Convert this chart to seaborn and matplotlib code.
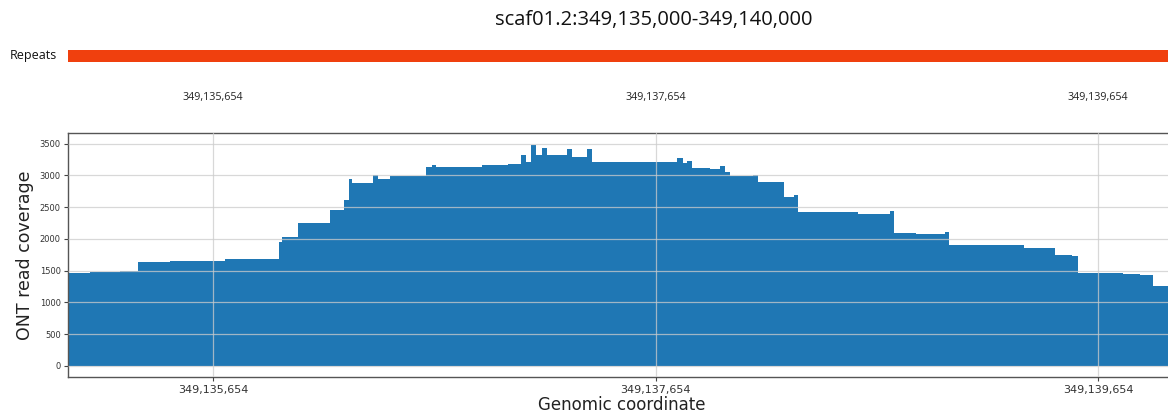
import matplotlib
matplotlib.use("Agg")
import matplotlib.pyplot as plt
import matplotlib.ticker as mticker
import seaborn as sns
import numpy as np

# ---------------- data ----------------
region_title = "scaf01.2:349,135,000-349,140,000"
region_start = 349135000
region_end = 349140000

repeat_starts = [349135000]
repeat_ends = [349140000]

top_ticks = [349135654, 349137654, 349139654]
y_ticks = [0, 500, 1000, 1500, 2000, 2500, 3000, 3500]

# coverage step function: start position of each step and its coverage
step_starts = [
    349135000, 349135098, 349135234, 349135316, 349135460, 349135708,
    349135952, 349135968, 349136036, 349136183, 349136246, 349136267,
    349136283, 349136379, 349136398, 349136454, 349136617, 349136643,
    349136662, 349136869, 349136989, 349137044, 349137069, 349137092,
    349137114, 349137143, 349137165, 349137253, 349137275, 349137346,
    349137368, 349137750, 349137777, 349137797, 349137820, 349137900,
    349137946, 349137968, 349137991, 349138096, 349138119, 349138233,
    349138282, 349138300, 349138473, 349138571, 349138714, 349138733,
    349138831, 349138962, 349138980, 349139319, 349139445, 349139459,
    349139536, 349139562, 349139768, 349139844, 349139904,
]
coverage = [
    1470, 1480, 1495, 1629, 1650, 1676,
    1955, 2030, 2245, 2460, 2620, 2945,
    2880, 3005, 2950, 2990, 3134, 3172,
    3140, 3170, 3188, 3325, 3215, 3488,
    3320, 3440, 3320, 3414, 3292, 3414,
    3213, 3277, 3200, 3235, 3119, 3103,
    3150, 3056, 2985, 3003, 2890, 2655,
    2690, 2430, 2420, 2400, 2438, 2095,
    2080, 2105, 1898, 1850, 1860, 1745,
    1735, 1461, 1440, 1428, 1260,
]

# ---------------- style ----------------
sns.set_style("white")
plt.rcParams["font.family"] = ["DejaVu Sans"]

W, H = 1168, 418
fig = plt.figure(figsize=(W / 100, H / 100), dpi=100)

def px_axes(left, top, right, bottom):
    return fig.add_axes([left / W, 1 - bottom / H, (right - left) / W, (bottom - top) / H])

x_left, x_right = 68.3, 1174.6
comma_fmt = mticker.FuncFormatter(lambda v, p: f"{int(round(v)):,}")

# ---------- title ----------
fig.text(654 / W, 1 - 20 / H, region_title, ha="center", va="center",
         fontsize=14.5, family=["Open Sans", "DejaVu Sans"], color="#111111")

# ---------- repeats track ----------
ax_rep = px_axes(x_left, 50, x_right, 62)
ax_rep.barh([0] * len(repeat_starts),
            [e - s for s, e in zip(repeat_starts, repeat_ends)],
            left=repeat_starts, height=1.0, color="#F0400E", linewidth=0)
ax_rep.set_xlim(region_start, region_end)
ax_rep.set_ylim(-0.5, 0.5)
ax_rep.axis("off")
fig.text(57 / W, 1 - 56 / H, "Repeats", ha="right", va="center",
         fontsize=9, family=["Open Sans", "DejaVu Sans"], color="#111111")

# ---------- top coordinate axis ----------
ax_top = px_axes(x_left, 84, x_right, 85)
ax_top.set_xlim(region_start, region_end)
ax_top.set_xticks(top_ticks)
ax_top.xaxis.set_major_formatter(comma_fmt)
ax_top.set_yticks([])
for s in ax_top.spines.values():
    s.set_visible(False)
ax_top.patch.set_alpha(0)
ax_top.tick_params(axis="x", direction="out", length=2.5, width=0.6, pad=2.5,
                   labelsize=7.7, color="#333333", labelcolor="#222222")
for lab in ax_top.get_xticklabels():
    lab.set_family(["Open Sans", "DejaVu Sans"])

# ---------- main coverage axes ----------
ax = px_axes(x_left, 133, x_right, 377)
edges = step_starts + [region_end]
sns.histplot(x=step_starts, weights=coverage, bins=edges, element="step",
             fill=True, alpha=1.0, color="#1f77b4", linewidth=0, ax=ax,
             zorder=1)
ax.set_xlim(region_start, region_end)
ax.set_ylim(-178, 3670)
ax.set_yticks(y_ticks)
ax.set_xticks(top_ticks)
ax.xaxis.set_major_formatter(comma_fmt)
ax.grid(True, color="#cccccc", alpha=0.75, linewidth=0.9, zorder=3)
ax.set_axisbelow(False)
ax.tick_params(axis="y", direction="out", length=3, width=0.8, pad=2.5,
               labelsize=6, left=True, color="#444444", labelcolor="#333333")
ax.tick_params(axis="x", direction="out", length=3, width=0.8, pad=2.5,
               labelsize=8, bottom=True, color="#444444", labelcolor="#333333")
for s in ax.spines.values():
    s.set_color("#555555")
    s.set_linewidth(1.0)
ax.set_ylabel("ONT read coverage", fontsize=12.5, color="#222222", labelpad=4)
ax.set_xlabel("Genomic coordinate", fontsize=12, color="#222222", labelpad=1)

fig.savefig("out.png", dpi=100)
